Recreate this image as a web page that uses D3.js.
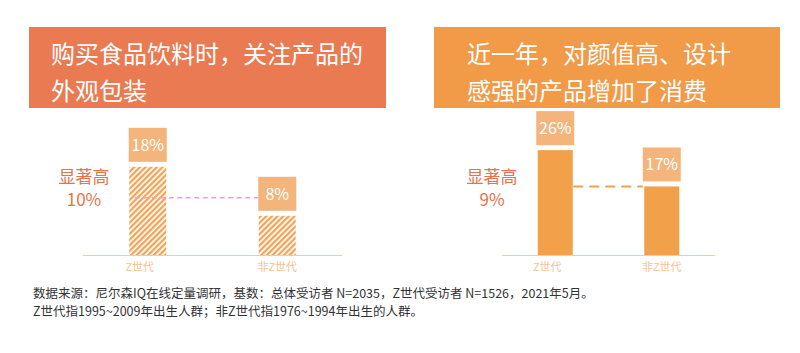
<!DOCTYPE html>
<html>
<head>
<meta charset="utf-8">
<script src="https://cdn.jsdelivr.net/npm/d3@7"></script>
<style>
  body { margin: 0; background: #fff; }
  svg { display: block; font-family: "Noto Sans CJK SC", "Noto Sans", sans-serif; }
</style>
</head>
<body>
<svg></svg>
<script>
const categories = ["Z世代", "非Z世代"];
const packagingValues = [18, 8];
const designValues = [26, 17];
const packagingTitle = ["购买食品饮料时，关注产品的", "外观包装"];
const designTitle = ["近一年，对颜值高、设计", "感强的产品增加了消费"];
const gapLabels = ["显著高", "10%", "9%"];
const footnotes = [
    "数据来源：尼尔森IQ在线定量调研，基数：总体受访者 N=2035，Z世代受访者 N=1526，2021年5月。",
    "Z世代指1995~2009年出生人群；非Z世代指1976~1994年出生的人群。"
];

const width = 800, height = 353;
const baseY = 255;

const svg = d3.select("svg")
      .attr("width", width)
      .attr("height", height)
      .attr("viewBox", [0, 0, width, height]);

const defs = svg.append("defs");
const hatch = defs.append("pattern")
      .attr("id", "hatch")
      .attr("patternUnits", "userSpaceOnUse")
      .attr("width", 4)
      .attr("height", 4)
      .attr("patternTransform", "rotate(45)");
hatch.append("rect").attr("width", 4).attr("height", 4).attr("fill", "#fff");
hatch.append("rect").attr("width", 2.3).attr("height", 4).attr("fill", "#f0a456");

// one panel: title box, bars, value boxes, gap note
function panel(opt) {
    const g = svg.append("g");

    g.append("rect")
        .attr("x", opt.box[0]).attr("y", 27)
        .attr("width", opt.box[1] - opt.box[0]).attr("height", 81)
        .attr("fill", opt.titleColor);

    g.selectAll("text.title")
        .data(opt.title)
        .join("text")
        .attr("class", "title")
        .attr("x", opt.box[0] + opt.textPad)
        .attr("y", (d, i) => 63 + i * 37)
        .attr("fill", "#fff")
        .attr("font-size", 24)
        .text(d => d);

    const x = d3.scalePoint()
        .domain(categories)
        .range(opt.axis)
        .padding(0.5);

    const y = d3.scaleLinear()
        .domain(opt.domain)
        .range([baseY, baseY - opt.pxSpan]);

    // baseline
    g.append("line")
        .attr("x1", opt.axis[0]).attr("x2", opt.axis[1])
        .attr("y1", baseY + 0.5).attr("y2", baseY + 0.5)
        .attr("stroke", "#bfe3a8").attr("stroke-width", 1.2);

    const bw = opt.barWidth;
    g.selectAll("rect.bar")
        .data(opt.values)
        .join("rect")
        .attr("class", "bar")
        .attr("x", (d, i) => x(categories[i]) - bw / 2)
        .attr("y", d => y(d))
        .attr("width", bw)
        .attr("height", d => baseY - y(d))
        .attr("fill", opt.barFill);

    // dashed connector
    const dashY = opt.dashY(y, x);
    g.append("line")
        .attr("x1", opt.dashFrom(x)).attr("x2", x(categories[1]) - 19)
        .attr("y1", dashY).attr("y2", dashY)
        .attr("stroke", opt.dashColor)
        .attr("stroke-width", opt.dashWidth)
        .attr("stroke-dasharray", opt.dash);

    // value boxes
    const boxW = 38, boxH = 34;
    g.selectAll("rect.vbox")
        .data(opt.values)
        .join("rect")
        .attr("class", "vbox")
        .attr("x", (d, i) => x(categories[i]) - boxW / 2)
        .attr("y", d => y(d) - 5 - boxH)
        .attr("width", boxW).attr("height", boxH)
        .attr("fill", "#f3b57c");

    g.selectAll("text.vlabel")
        .data(opt.values)
        .join("text")
        .attr("class", "vlabel")
        .attr("x", (d, i) => x(categories[i]))
        .attr("y", d => y(d) - 5 - boxH / 2 + 6)
        .attr("text-anchor", "middle")
        .attr("fill", "#fff")
        .attr("font-size", 16)
        .text(d => d + "%");

    g.selectAll("text.cat")
        .data(categories)
        .join("text")
        .attr("class", "cat")
        .attr("x", (d, i) => x(d) - (i === 0 ? 8 : 0))
        .attr("y", baseY + 16)
        .attr("text-anchor", "middle")
        .attr("fill", "#f5c295")
        .attr("font-size", 11)
        .text(d => d);

    const note = g.append("text")
        .attr("text-anchor", "middle")
        .attr("fill", "#e8724a")
        .attr("font-size", 17);
    note.selectAll("tspan")
        .data([gapLabels[0], opt.gap])
        .join("tspan")
        .attr("x", opt.noteX)
        .attr("y", (d, i) => 183 + i * 23)
        .text(d => d);
}

panel({
    box: [29, 386], textPad: 22, titleColor: "#e97a52", title: packagingTitle,
    axis: [83, 342], domain: [0, 20], pxSpan: 98, barWidth: 37,
    values: packagingValues, barFill: "url(#hatch)",
    dashY: (y) => y(packagingValues[1]) - 18,
    dashFrom: (x) => x(categories[0]) - 13,
    dashColor: "#e9a0e2", dashWidth: 1.5, dash: "5 3.5",
    noteX: 84, gap: gapLabels[1]
});

panel({
    box: [434, 780], textPad: 33, titleColor: "#f19a48", title: designTitle,
    axis: [502, 715], domain: [0, 30], pxSpan: 121, barWidth: 35,
    values: designValues, barFill: "#f2a04a",
    dashY: (y) => y(designValues[1]),
    dashFrom: (x) => x(categories[0]) + 18,
    dashColor: "#f2a04a", dashWidth: 2, dash: "10 6",
    noteX: 492, gap: gapLabels[2]
});

const foot = svg.append("text")
    .attr("fill", "#333")
    .attr("font-size", 12.5);
foot.selectAll("tspan")
    .data(footnotes)
    .join("tspan")
    .attr("x", 33)
    .attr("y", (d, i) => 298 + i * 18)
    .text(d => d);
</script>
</body>
</html>
